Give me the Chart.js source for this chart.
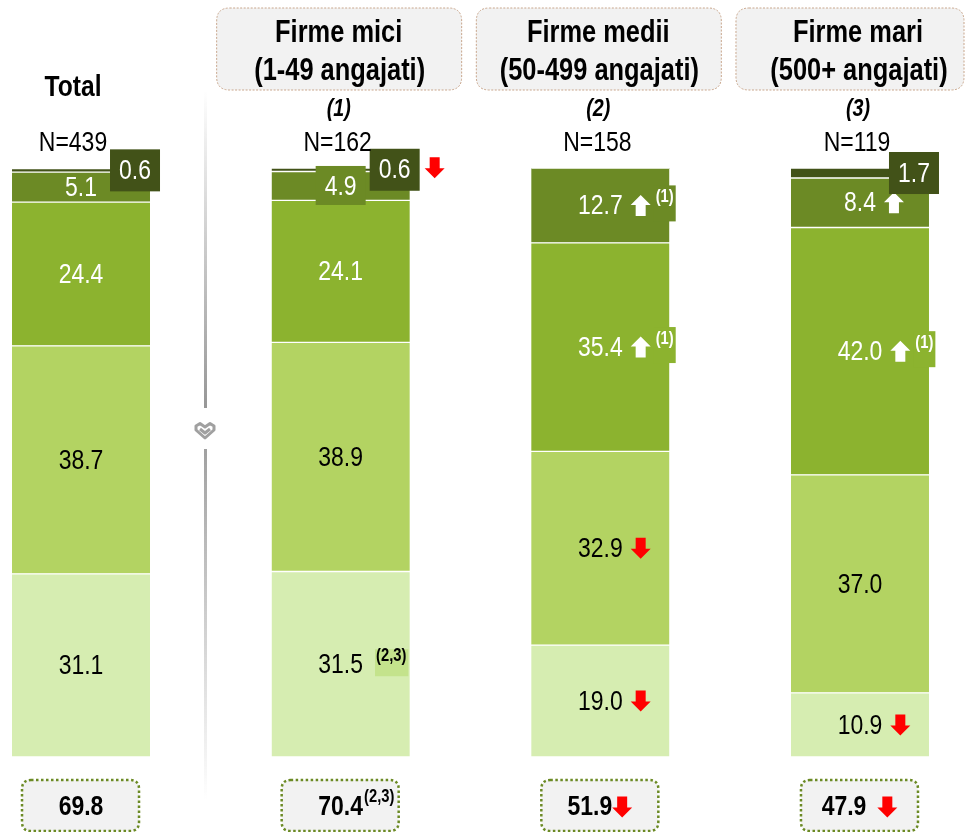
<!DOCTYPE html>
<html>
<head>
<meta charset="utf-8">
<script src="https://cdn.jsdelivr.net/npm/chart.js@4.4.1/dist/chart.umd.min.js"></script>
<style>
  html, body { margin: 0; padding: 0; background: #fff; }
  #wrap { width: 968px; height: 832px; }
</style>
</head>
<body>
<div id="wrap"><canvas id="chart" width="968" height="832"></canvas></div>
<script>
// categorii si esantioane
const categories = ['Total', 'Firme mici', 'Firme medii', 'Firme mari'];
const subtitles = ['', '(1-49 angajati)', '(50-499 angajati)', '(500+ angajati)'];
const groupCodes = ['', '(1)', '(2)', '(3)'];
const sampleSizes = [439, 162, 158, 119];

// procente pe nivel, de jos in sus
const level1 = [31.1, 31.5, 19.0, 10.9];
const level2 = [38.7, 38.9, 32.9, 37.0];
const level3 = [24.4, 24.1, 35.4, 42.0];
const level4 = [5.1, 4.9, 12.7, 8.4];
const level5 = [0.6, 0.6, 0, 1.7];

// total primele doua niveluri (caseta de jos)
const bottomTotals = [69.8, 70.4, 51.9, 47.9];

// diferente semnificative: sageti si trimiteri
const arrows = [
    [null, null, 'down', 'down'],
    [null, null, 'down', null],
    [null, null, 'up', 'up'],
    [null, null, 'up', 'up'],
    [null, 'down', null, null]
];
const refs = [
    [null, '(2,3)', null, null],
    [null, null, null, null],
    [null, null, '(1)', '(1)'],
    [null, null, '(1)', null],
    [null, null, null, null]
];
const bottomArrows = [null, null, 'down', 'down'];
const bottomRefs = [null, '(2,3)', null, null];

const levels = [level1, level2, level3, level4, level5];
const colors = ['#d6edb1', '#b3d362', '#8cb32f', '#6c8a25', '#425218'];

// Arial Narrow -> Liberation Sans Narrow, altfel comprimam Liberation Sans
const NARROW_OK = (function () {
    const c = document.createElement('canvas').getContext('2d');
    c.font = '40px "Liberation Sans Narrow", monospace';
    const a = c.measureText('mmmmiiii').width;
    c.font = '40px monospace';
    const b = c.measureText('mmmmiiii').width;
    return a !== b;
})();
const SQUEEZE = NARROW_OK ? 1 : 0.82;

function font(weight, size) {
    return weight + ' ' + size + 'px "Liberation Sans Narrow", "Liberation Sans", Arial, sans-serif';
}
function textWidth(ctx, s, weight, size) {
    ctx.save();
    ctx.font = font(weight, size);
    const w = ctx.measureText(s).width * SQUEEZE;
    ctx.restore();
    return w;
}
function drawText(ctx, s, x, y, weight, size, color, align) {
    ctx.save();
    ctx.font = font(weight, size);
    ctx.fillStyle = color;
    ctx.textAlign = align || 'center';
    ctx.textBaseline = 'middle';
    ctx.translate(x, y);
    ctx.scale(SQUEEZE, 1);
    ctx.fillText(s, 0, 0);
    ctx.restore();
}
function drawArrow(ctx, x, cy, dir, color) {
    const w = 20, h = 21, sw = 10, hh = 10;
    const m = x + w / 2;
    ctx.save();
    ctx.fillStyle = color;
    ctx.beginPath();
    if (dir === 'up') {
        const t = cy - h / 2;
        ctx.moveTo(m, t);
        ctx.lineTo(x + w, t + hh);
        ctx.lineTo(m + sw / 2, t + hh);
        ctx.lineTo(m + sw / 2, t + h);
        ctx.lineTo(m - sw / 2, t + h);
        ctx.lineTo(m - sw / 2, t + hh);
        ctx.lineTo(x, t + hh);
    } else {
        const b = cy + h / 2;
        ctx.moveTo(m, b);
        ctx.lineTo(x + w, b - hh);
        ctx.lineTo(m + sw / 2, b - hh);
        ctx.lineTo(m + sw / 2, b - h);
        ctx.lineTo(m - sw / 2, b - h);
        ctx.lineTo(m - sw / 2, b - hh);
        ctx.lineTo(x, b - hh);
    }
    ctx.closePath();
    ctx.fill();
    ctx.restore();
}
function roundRect(ctx, x, y, w, h, r) {
    ctx.beginPath();
    ctx.moveTo(x + r, y);
    ctx.lineTo(x + w - r, y);
    ctx.quadraticCurveTo(x + w, y, x + w, y + r);
    ctx.lineTo(x + w, y + h - r);
    ctx.quadraticCurveTo(x + w, y + h, x + w - r, y + h);
    ctx.lineTo(x + r, y + h);
    ctx.quadraticCurveTo(x, y + h, x, y + h - r);
    ctx.lineTo(x, y + r);
    ctx.quadraticCurveTo(x, y, x + r, y);
    ctx.closePath();
}

// etichete pe segmente
const segmentLabels = {
    id: 'segmentLabels',
    afterDatasetsDraw(chart) {
        const ctx = chart.ctx;
        levels.forEach((lvl, L) => {
            const meta = chart.getDatasetMeta(L);
            lvl.forEach((v, i) => {
                if (!v) return;
                const bar = meta.data[i];
                const cx = bar.x;
                const cy = (bar.y + bar.base) / 2;
                const label = v.toFixed(1);
                const color = L < 2 ? '#000' : '#fff';
                if (L === 4) {
                    const bx = cx + 29;
                    ctx.fillStyle = colors[4];
                    ctx.fillRect(bx, cy - 21, 50, 42);
                    drawText(ctx, label, bx + 25, cy + 1, 'normal', 28, '#fff');
                    if (arrows[L][i]) drawArrow(ctx, bx + 55, cy - 2, arrows[L][i], '#ff0000');
                    return;
                }
                if (L === 3 && v < 5) {
                    ctx.fillStyle = colors[3];
                    ctx.fillRect(cx - 25, cy - 20, 50, 39);
                }
                const tw = textWidth(ctx, label, 'normal', 28);
                drawText(ctx, label, cx, cy + 1, 'normal', 28, color);
                let x = cx + tw / 2 + 8;
                if (arrows[L][i]) {
                    const ac = arrows[L][i] === 'up' ? '#fff' : '#ff0000';
                    drawArrow(ctx, x, cy, arrows[L][i], ac);
                    x += 25;
                } else if (refs[L][i]) {
                    x += 5;
                }
                if (refs[L][i]) {
                    const s = refs[L][i];
                    const sw = textWidth(ctx, s, 'bold', 18);
                    ctx.fillStyle = L === 0 ? '#c4e38c' : colors[L];
                    if (L === 0) ctx.fillRect(x - 1, cy - 15, sw + 3, 27);
                    else ctx.fillRect(x - 2, cy - 20, sw + 4, 36);
                    drawText(ctx, s, x, cy - 8, 'bold', 18, color, 'left');
                }
            });
        });
    }
};

// antete, separator, casete de jos
const frame = {
    id: 'frame',
    afterDraw(chart) {
        const ctx = chart.ctx;
        const xs = chart.scales.x;

        // separator
        const g = ctx.createLinearGradient(0, 90, 0, 800);
        g.addColorStop(0, 'rgba(150,150,150,0)');
        g.addColorStop(0.45, 'rgba(150,150,150,1)');
        g.addColorStop(1, 'rgba(150,150,150,0)');
        ctx.fillStyle = g;
        ctx.fillRect(204, 90, 3, 318);
        ctx.fillRect(204, 449, 3, 351);
        ctx.save();
        ctx.strokeStyle = '#a0a0a0';
        ctx.lineWidth = 3;
        ctx.lineJoin = 'round';
        ctx.beginPath();
        ctx.moveTo(205, 438);
        ctx.lineTo(196, 430);
        ctx.lineTo(196, 426);
        ctx.lineTo(200, 423.5);
        ctx.lineTo(205, 427);
        ctx.lineTo(210, 423.5);
        ctx.lineTo(214, 426);
        ctx.lineTo(214, 430);
        ctx.closePath();
        ctx.stroke();
        ctx.beginPath();
        ctx.moveTo(200, 429);
        ctx.lineTo(205, 433);
        ctx.lineTo(210, 429);
        ctx.stroke();
        ctx.restore();

        categories.forEach((name, i) => {
            const cx = xs.getPixelForValue(i);
            if (i === 0) {
                drawText(ctx, name, cx - 8, 88, 'bold', 30, '#000');
            } else {
                const left = cx - 124;
                const right = Math.min(cx + 121, 964);
                ctx.save();
                roundRect(ctx, left, 8, right - left, 82, 13);
                ctx.fillStyle = '#f2f2f2';
                ctx.fill();
                ctx.strokeStyle = '#c8a68c';
                ctx.lineWidth = 1;
                ctx.setLineDash([2, 1.5]);
                ctx.stroke();
                ctx.restore();
                drawText(ctx, name, cx - 2, 33, 'bold', 31, '#000');
                drawText(ctx, subtitles[i], cx - 1, 71, 'bold', 31, '#000');
                drawText(ctx, groupCodes[i], cx - 2, 109, 'italic bold', 24, '#000');
            }
            drawText(ctx, 'N=' + sampleSizes[i], cx - (i === 0 ? 8 : 3), 143, 'normal', 28, '#000');

            // caseta de jos
            ctx.save();
            roundRect(ctx, cx - 59, 780, 117, 51, 9);
            ctx.fillStyle = '#f2f2f2';
            ctx.fill();
            ctx.strokeStyle = '#6b8a24';
            ctx.lineWidth = 2.5;
            ctx.setLineDash([2.5, 2.5]);
            ctx.stroke();
            ctx.restore();
            const s = bottomTotals[i].toFixed(1);
            const tw = textWidth(ctx, s, 'bold', 28);
            if (bottomArrows[i]) {
                const gap = i === 3 ? 11 : 0;
                const total = tw + gap + 21;
                const x0 = cx - total / 2;
                drawText(ctx, s, x0, 807, 'bold', 28, '#000', 'left');
                drawArrow(ctx, x0 + tw + gap, 807, bottomArrows[i], '#ff0000');
            } else {
                drawText(ctx, s, cx, 807, 'bold', 28, '#000');
                if (bottomRefs[i]) {
                    drawText(ctx, bottomRefs[i], cx + tw / 2 + 1, 797, 'bold', 18, '#000', 'left');
                }
            }
        });
    }
};

const ctx = document.getElementById('chart').getContext('2d');
const datasets = levels.map((lvl, L) => ({
    label: 'Nivel ' + (L + 1),
    data: lvl.map((v, i) => ({ x: i, y: v })),
    backgroundColor: colors[L],
    borderColor: '#ffffff',
    borderWidth: { top: 1, bottom: 1, left: 0, right: 0 },
    borderSkipped: false,
    barThickness: 138
}));

new Chart(ctx, {
    type: 'bar',
    data: { datasets: datasets },
    options: {
        responsive: false,
        animation: false,
        layout: { padding: { top: 168, bottom: 75, left: 0, right: 0 } },
        scales: {
            x: { type: 'linear', min: -0.312, max: 3.416, offset: false, stacked: true, display: false },
            y: { min: 0, max: 100, stacked: true, display: false }
        },
        plugins: {
            legend: { display: false },
            tooltip: { enabled: false }
        }
    },
    plugins: [segmentLabels, frame]
});
</script>
</body>
</html>
